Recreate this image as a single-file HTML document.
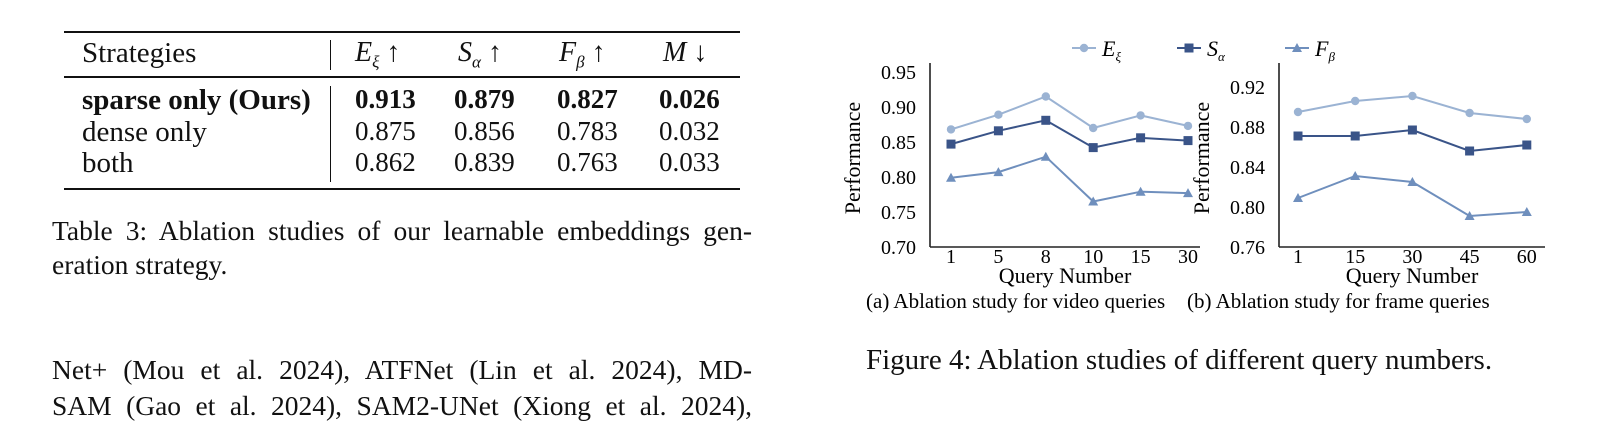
<!DOCTYPE html>
<html><head><meta charset="utf-8"><style>
body{margin:0;width:1601px;height:416px;background:#fff;overflow:hidden;font-family:"Liberation Serif",serif;color:#111;position:relative}
.t{position:absolute;white-space:nowrap}
.rule{position:absolute;background:#111}
.v{position:absolute;font-size:27px}
.j{position:absolute;left:52px;width:700px;font-size:27.5px;white-space:nowrap;text-align:justify;text-align-last:justify}
</style></head><body>
<div>
<div class="rule" style="left:64px;top:31px;width:676px;height:2px"></div>
<div class="rule" style="left:64px;top:76px;width:676px;height:1.5px"></div>
<div class="rule" style="left:64px;top:188px;width:676px;height:2px"></div>
<div class="rule" style="left:330px;top:40px;width:1px;height:30px"></div>
<div class="rule" style="left:330px;top:86px;width:1px;height:96px"></div>
<div class="t" style="left:82px;top:37px;font-size:29px">Strategies</div>
<div class="t" style="left:355px;top:37px;font-size:28px"><i>E</i><sub style="font-size:17px"><i>ξ</i></sub> ↑</div>
<div class="t" style="left:458px;top:37px;font-size:28px"><i>S</i><sub style="font-size:17px"><i>α</i></sub> ↑</div>
<div class="t" style="left:559px;top:37px;font-size:28px"><i>F</i><sub style="font-size:17px"><i>β</i></sub> ↑</div>
<div class="t" style="left:663px;top:37px;font-size:28px"><i>M</i> ↓</div>
<div class="t" style="left:82px;top:84px;font-size:29px;font-weight:bold">sparse only (Ours)</div>
<div class="t" style="left:82px;top:116px;font-size:29px">dense only</div>
<div class="t" style="left:82px;top:147px;font-size:29px">both</div>
<div style="font-weight:bold">
<span class="v" style="left:355px;top:84px">0.913</span><span class="v" style="left:454px;top:84px">0.879</span><span class="v" style="left:557px;top:84px">0.827</span><span class="v" style="left:659px;top:84px">0.026</span></div>
<div>
<span class="v" style="left:355px;top:116px">0.875</span><span class="v" style="left:454px;top:116px">0.856</span><span class="v" style="left:557px;top:116px">0.783</span><span class="v" style="left:659px;top:116px">0.032</span></div>
<div>
<span class="v" style="left:355px;top:147px">0.862</span><span class="v" style="left:454px;top:147px">0.839</span><span class="v" style="left:557px;top:147px">0.763</span><span class="v" style="left:659px;top:147px">0.033</span></div>
</div>
<div>
<div class="j" style="top:215px">Table 3: Ablation studies of our learnable embeddings gen-</div>
<div class="t" style="left:52px;top:249px;font-size:27.5px">eration strategy.</div>
</div>
<div>
<div class="j" style="top:354px">Net+ (Mou et al. 2024), ATFNet (Lin et al. 2024), MD-</div>
<div class="j" style="top:390px">SAM (Gao et al. 2024), SAM2-UNet (Xiong et al. 2024),</div>
</div>
<div class="t" style="left:866px;top:344px;font-size:29px">Figure 4: Ablation studies of different query numbers.</div>

<svg id="fig" width="1601" height="416" style="position:absolute;left:0;top:0" font-family="Liberation Serif, serif"></svg>
<script>
const leftCats=["1","5","8","10","15","30"];
const leftE=[0.868,0.889,0.915,0.870,0.888,0.873];
const leftS=[0.847,0.866,0.881,0.842,0.856,0.852];
const leftF=[0.799,0.807,0.829,0.765,0.779,0.777];
const leftTicks=[0.70,0.75,0.80,0.85,0.90,0.95];
const rightCats=["1","15","30","45","60"];
const rightE=[0.895,0.906,0.911,0.894,0.888];
const rightS=[0.871,0.871,0.877,0.856,0.862];
const rightF=[0.809,0.831,0.825,0.791,0.795];
const rightTicks=[0.76,0.80,0.84,0.88,0.92];
const colE="#9bb3d3",colS="#3a5488",colF="#6f8fbd";
const svg=document.getElementById('fig');const NS="http://www.w3.org/2000/svg";
function mk(t,a,txt){const e=document.createElementNS(NS,t);for(const k in a)e.setAttribute(k,a[k]);if(txt!=null)e.textContent=txt;svg.appendChild(e);return e;}
function marker(kind,x,y,c){
 if(kind==='c')return mk('circle',{cx:x,cy:y,r:4.2,fill:c});
 if(kind==='s')return mk('rect',{x:x-4.5,y:y-4.5,width:9,height:9,fill:c});
 return mk('polygon',{points:`${x},${y-5} ${x+5},${y+4} ${x-5},${y+4}`,fill:c});
}
function chart(o){
 const y=v=>o.y0-(v-o.vmin)/(o.vmax-o.vmin)*(o.y0-o.y1);
 const x=i=>o.xs+i*o.dx;
 let e=mk('line',{x1:o.ax,y1:o.top,x2:o.ax,y2:o.y0,stroke:'#222','stroke-width':1.6});
 
 e=mk('line',{x1:o.ax,y1:o.y0,x2:o.right,y2:o.y0,stroke:'#222','stroke-width':1.6});
 
 o.ticks.forEach(t=>{e=mk('text',{x:o.ax-14,y:y(t)+7,'text-anchor':'end','font-size':20},t.toFixed(2));
  });
 o.cats.forEach((c,i)=>{e=mk('text',{x:x(i),y:o.y0+16,'text-anchor':'middle','font-size':20},c);
  });
 e=mk('text',{x:(o.ax+o.right)/2,y:o.y0+36,'text-anchor':'middle','font-size':22},'Query Number');
 
 e=mk('text',{x:0,y:0,'text-anchor':'middle','font-size':22,transform:`translate(${o.ax-70},${(o.top+o.y0)/2+3}) rotate(-90)`},'Performance');
 
 e=mk('text',{x:o.subx,y:o.y0+61,'text-anchor':'start','font-size':21},o.sub);
 
 [[o.E,colE,'c','e-xi'],[o.S,colS,'s','s-alpha'],[o.F,colF,'t','f-beta']].forEach(([d,c,k,n])=>{
  e=mk('polyline',{points:d.map((v,i)=>x(i)+','+y(v)).join(' '),fill:'none',stroke:c,'stroke-width':2});
  
  d.forEach((v,i)=>{e=marker(k,x(i),y(v),c);});
 });
}
chart({ax:930,right:1200,top:63,y0:247,y1:72,vmin:0.70,vmax:0.95,xs:951,dx:47.4,cats:leftCats,E:leftE,S:leftS,F:leftF,ticks:leftTicks,sub:'(a) Ablation study for video queries',subx:866});
chart({ax:1279,right:1545,top:63,y0:247,y1:87,vmin:0.76,vmax:0.92,xs:1298,dx:57.2,cats:rightCats,E:rightE,S:rightS,F:rightF,ticks:rightTicks,sub:'(b) Ablation study for frame queries',subx:1187});
[[1072,colE,'c','E','ξ','legend-e-xi'],[1177,colS,'s','S','α','legend-s-alpha'],[1285,colF,'t','F','β','legend-f-beta']].forEach(([lx,c,k,l,s,n])=>{
 let e=mk('line',{x1:lx,y1:48,x2:lx+24,y2:48,stroke:c,'stroke-width':2});
 e=marker(k,lx+12,48,c);
 e=mk('text',{x:lx+30,y:56,'font-size':22,'font-style':'italic'});
 
 e.innerHTML=`${l}<tspan font-size="13" dy="5">${s}</tspan>`;
});
</script>
</body></html>
